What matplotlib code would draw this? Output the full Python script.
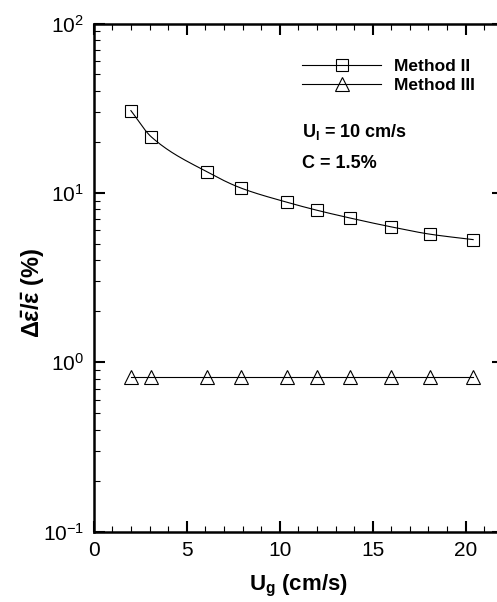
import numpy as np
import matplotlib
matplotlib.use("Agg")
import matplotlib.pyplot as plt
from matplotlib.ticker import MultipleLocator, LogLocator, NullFormatter

plt.rcParams["font.family"] = ["Liberation Sans", "DejaVu Sans"]
plt.rcParams["mathtext.fontset"] = "custom"
plt.rcParams["mathtext.rm"] = "Liberation Sans"
plt.rcParams["mathtext.it"] = "Liberation Sans:italic"
plt.rcParams["mathtext.bf"] = "Liberation Sans:bold"
plt.rcParams["axes.unicode_minus"] = False

# Gas superficial velocity (cm/s)
u_g = [2.0, 3.1, 6.1, 7.9, 10.4, 12.0, 13.8, 16.0, 18.1, 20.4]
# Relative uncertainty of mean holdup (%)
method_ii = [30.6, 21.4, 13.3, 10.7, 8.8, 7.9, 7.1, 6.3, 5.7, 5.3]
method_iii = [0.82, 0.82, 0.82, 0.82, 0.82, 0.82, 0.82, 0.82, 0.82, 0.82]
series_labels = ["Method II", "Method III"]
x_ticks = [0, 5, 10, 15, 20]


def smooth_curve(x, y, n=30):
    """Cubic Hermite curve through the points, evaluated in log-y."""
    x = np.asarray(x, float)
    ly = np.log10(np.asarray(y, float))
    h = np.diff(x)
    d = np.diff(ly) / h
    m = np.empty_like(ly)
    m[0], m[-1] = d[0], d[-1]
    for i in range(1, len(x) - 1):
        if d[i - 1] * d[i] <= 0:
            m[i] = 0.0
        else:
            w1 = 2 * h[i] + h[i - 1]
            w2 = h[i] + 2 * h[i - 1]
            m[i] = (w1 + w2) / (w1 / d[i - 1] + w2 / d[i])
    xs, ys = [], []
    for i in range(len(x) - 1):
        t = np.linspace(0, 1, n, endpoint=(i == len(x) - 2))
        h00 = 2 * t**3 - 3 * t**2 + 1
        h10 = t**3 - 2 * t**2 + t
        h01 = -2 * t**3 + 3 * t**2
        h11 = t**3 - t**2
        xs.append(x[i] + t * h[i])
        ys.append(h00 * ly[i] + h10 * h[i] * m[i] + h01 * ly[i + 1] + h11 * h[i] * m[i + 1])
    return np.concatenate(xs), 10 ** np.concatenate(ys)


W, H = 497, 602
fig = plt.figure(figsize=(W / 100, H / 100), dpi=100)
left_px, right_px, top_px, bottom_px = 93.7, 502.9, 23.5, 531.7
ax = fig.add_axes([left_px / W, 1 - bottom_px / H,
                   (right_px - left_px) / W, (bottom_px - top_px) / H])

lw = 0.8
xs, ys = smooth_curve(u_g, method_ii)
ax.plot(xs, ys, color="black", lw=lw)
ax.plot(u_g, method_ii, ls="none", marker="s", ms=8, mfc="none",
        mec="black", mew=0.8)
ax.plot(u_g, method_iii, color="black", lw=lw, marker="^", ms=9.5,
        mfc="none", mec="black", mew=0.8)

# Legend handles
h2, = ax.plot([], [], color="black", lw=lw, marker="s", ms=8, mfc="none", mew=0.8)
h3, = ax.plot([], [], color="black", lw=lw, marker="^", ms=9.5, mfc="none", mew=0.8)
leg = ax.legend([h2, h3], series_labels, loc="upper left",
                bbox_to_anchor=(0.508, 0.931), frameon=False,
                borderpad=0, borderaxespad=0, handlelength=4.6,
                handletextpad=0.75, labelspacing=0.24, markerscale=1.0,
                prop={"weight": "bold", "size": 12.5})

ax.text(0.508, 0.786, r"$\mathbf{U_l}$ = 10 cm/s", transform=ax.transAxes,
        fontsize=13, fontweight="bold", va="center", ha="left")
ax.text(0.508, 0.724, "C = 1.5%", transform=ax.transAxes,
        fontsize=13, fontweight="bold", va="center", ha="left")

ax.set_yscale("log")
ax.set_xlim(0, 22)
ax.set_ylim(0.1, 100)
ax.set_xticks(x_ticks)
ax.xaxis.set_minor_locator(MultipleLocator(1))
ax.yaxis.set_major_locator(LogLocator(base=10, numticks=10))
ax.yaxis.set_minor_locator(LogLocator(base=10, subs=np.arange(2, 10), numticks=20))
ax.yaxis.set_minor_formatter(NullFormatter())

for s in ax.spines.values():
    s.set_linewidth(1.8)
ax.tick_params(which="both", direction="in", top=True, right=True)
ax.tick_params(which="major", length=8, width=1.5, labelsize=15, pad=7)
ax.tick_params(which="minor", length=4.3, width=0.8)

ax.set_xlabel(r"$\mathbf{U_g}$ (cm/s)", fontsize=16, fontweight="bold", labelpad=9)
ax.set_ylabel(r"$\mathbf{\Delta\bar{\varepsilon}/\bar{\varepsilon}\ }$(%)",
              fontsize=17, fontweight="bold")
ax.yaxis.set_label_coords(-0.115, 0.47)

fig.savefig("out.png", dpi=100)
